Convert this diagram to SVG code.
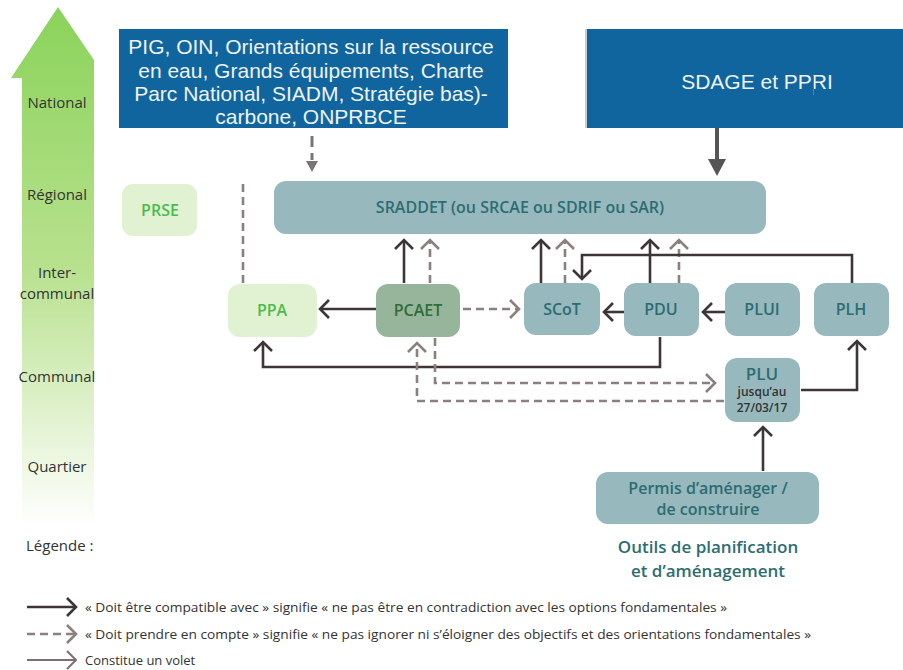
<svg xmlns="http://www.w3.org/2000/svg" width="903" height="670" viewBox="0 0 903 670">
<defs>
<linearGradient id="gArrow" x1="0" y1="0" x2="0" y2="1">
<stop offset="0" stop-color="#8ad35a"/>
<stop offset="0.5" stop-color="#b8e18e"/>
<stop offset="1" stop-color="#ffffff"/>
</linearGradient>
<marker id="ms" markerUnits="userSpaceOnUse" viewBox="-12 -12 14 24" markerWidth="14" markerHeight="24" refX="0" refY="0" orient="auto">
<path d="M-9,-9 L0,0 L-9,9" fill="none" stroke="#3e3636" stroke-width="2.6"/>
</marker>
<marker id="md" markerUnits="userSpaceOnUse" viewBox="-12 -12 14 24" markerWidth="14" markerHeight="24" refX="0" refY="0" orient="auto">
<path d="M-9,-9 L0,0 L-9,9" fill="none" stroke="#8c7f7f" stroke-width="2.6"/>
</marker>
<marker id="mv" markerUnits="userSpaceOnUse" viewBox="-12 -12 14 24" markerWidth="14" markerHeight="24" refX="0" refY="0" orient="auto">
<path d="M-9,-9 L0,0 L-9,9" fill="none" stroke="#7d6f6f" stroke-width="2"/>
</marker>
</defs>
<style>
.lvl{font-family:"Open Sans","Noto Sans",sans-serif;font-size:15px;fill:#333;text-anchor:middle}
.blue{fill:#10659f}
.btxt{font-family:"Liberation Sans",Arial,sans-serif;font-size:21px;fill:#eef3f8;text-anchor:middle}
.teal{fill:#97b8bd}
.lgreen{fill:#e1f2d3}
.lab{font-family:"Open Sans","Noto Sans",sans-serif;font-size:16px;font-weight:600;text-anchor:middle}
.tt{fill:#2c6d72}
.gt{fill:#4cbb4e}
.s{fill:none;stroke:#3e3636;stroke-width:2.6}
.d{fill:none;stroke:#8c7f7f;stroke-width:2.6;stroke-dasharray:8 5}
.leg{font-family:"Open Sans","Noto Sans",sans-serif;font-size:13px;fill:#333}
</style>
<rect width="903" height="670" fill="#ffffff"/>

<g id="scale">
<polygon points="58,7 94,60 94,527 22,527 22,78 11,78" fill="url(#gArrow)"/>
<text class="lvl" x="57" y="108">National</text>
<text class="lvl" x="57" y="200">Régional</text>
<text class="lvl" x="57" y="278">Inter-</text>
<text class="lvl" x="57" y="299">communal</text>
<text class="lvl" x="57" y="382">Communal</text>
<text class="lvl" x="57" y="472">Quartier</text>
<text class="lvl" x="26" y="551" style="text-anchor:start">Légende :</text>
</g>

<g id="pig">
<rect class="blue" x="119" y="29" width="389" height="99"/>
<text class="btxt" x="311" y="54">PIG, OIN, Orientations sur la ressource</text>
<text class="btxt" x="311" y="78">en eau, Grands équipements, Charte</text>
<text class="btxt" x="311" y="101">Parc National, SIADM, Stratégie bas)-</text>
<text class="btxt" x="311" y="124">carbone, ONPRBCE</text>
</g>

<g id="sdage">
<rect x="585" y="29" width="2" height="99" fill="#c8cdd2"/>
<rect class="blue" x="587" y="29" width="316" height="99"/>
<text class="btxt" x="757" y="89">SDAGE et PPRI</text>
<line x1="813.5" y1="76" x2="813.5" y2="95" stroke="#9a6a6a" stroke-width="1"/>
</g>

<g id="sraddet">
<rect class="teal" x="274" y="181" width="492" height="53" rx="12"/>
<text class="lab tt" x="520" y="213">SRADDET (ou SRCAE ou SDRIF ou SAR)</text>
</g>

<g id="prse">
<rect class="lgreen" x="122" y="184" width="75" height="52" rx="11"/>
<text class="lab gt" x="160" y="216">PRSE</text>
</g>

<g id="ppa">
<rect class="lgreen" x="228" y="284" width="89" height="53" rx="12"/>
<text class="lab gt" x="272" y="316">PPA</text>
</g>

<g id="pcaet">
<rect x="376" y="284" width="84" height="53" rx="12" fill="#97b59a"/>
<text class="lab" x="418" y="316" fill="#2f6d39">PCAET</text>
</g>

<g id="scot">
<rect class="teal" x="524" y="283" width="76" height="52" rx="12"/>
<text class="lab tt" x="562" y="315">SCoT</text>
</g>

<g id="pdu">
<rect class="teal" x="624" y="283" width="75" height="53" rx="12"/>
<text class="lab tt" x="661" y="315">PDU</text>
</g>

<g id="plui">
<rect class="teal" x="725" y="283" width="75" height="53" rx="12"/>
<text class="lab tt" x="762" y="315">PLUI</text>
</g>

<g id="plh">
<rect class="teal" x="814" y="283" width="75" height="53" rx="12"/>
<text class="lab tt" x="851" y="315">PLH</text>
</g>

<g id="plu">
<rect class="teal" x="725" y="358" width="75" height="64" rx="12"/>
<text class="lab tt" x="762" y="380" style="font-size:17px">PLU</text>
<text class="lab" x="762" y="396" fill="#333" style="font-size:12px">jusqu’au</text>
<text class="lab" x="762" y="412" fill="#333" style="font-size:12px">27/03/17</text>
</g>

<g id="permis">
<rect class="teal" x="596" y="472" width="223" height="52" rx="12"/>
<text class="lab tt" x="708" y="494">Permis d’aménager /</text>
<text class="lab tt" x="708" y="515">de construire</text>
</g>

<g id="outils">
<text class="lab tt" x="708" y="553" style="font-size:17px">Outils de planification</text>
<text class="lab tt" x="708" y="577" style="font-size:17px">et d’aménagement</text>
</g>

<g id="connectors">
<line x1="312" y1="136" x2="312" y2="160" stroke="#7a7474" stroke-width="3" stroke-dasharray="11 6"/>
<polygon points="306,161 318,161 312,172" fill="#7a7474"/>
<line x1="717" y1="128" x2="717" y2="160" stroke="#555" stroke-width="4"/>
<polygon points="708,159 726,159 717,176" fill="#555"/>

<line class="d" x1="243" y1="283" x2="243" y2="182"/>

<line class="s" x1="404" y1="283" x2="404" y2="240" marker-end="url(#ms)"/>
<line class="d" x1="430" y1="283" x2="430" y2="240" marker-end="url(#md)"/>
<line class="s" x1="541" y1="283" x2="541" y2="240" marker-end="url(#ms)"/>
<line class="d" x1="565" y1="283" x2="565" y2="240" marker-end="url(#md)"/>
<line class="s" x1="650" y1="283" x2="650" y2="240" marker-end="url(#ms)"/>
<line class="d" x1="679" y1="283" x2="679" y2="240" marker-end="url(#md)"/>

<path class="s" d="M852,283 V255 H582 V279" marker-end="url(#ms)"/>

<line class="s" x1="376" y1="309" x2="320" y2="309" marker-end="url(#ms)"/>
<line class="d" x1="463" y1="309" x2="519" y2="309" marker-end="url(#md)"/>
<line class="s" x1="624" y1="312" x2="604" y2="312" marker-end="url(#ms)"/>
<line class="s" x1="725" y1="312" x2="703" y2="312" marker-end="url(#ms)"/>

<path class="s" d="M660,337 V367 H263 V342" marker-end="url(#ms)"/>
<path class="d" d="M435,338 V383 H715" marker-end="url(#md)"/>
<path class="d" d="M724,401 H417 V343" marker-end="url(#md)"/>
<path class="s" d="M801,390 H857 V341" marker-end="url(#ms)"/>
<line class="s" x1="763" y1="471" x2="763" y2="427" marker-end="url(#ms)"/>
</g>

<g id="legend">
<line class="s" x1="27" y1="607" x2="76" y2="607" marker-end="url(#ms)"/>
<text class="leg" x="85" y="612" textLength="642" lengthAdjust="spacingAndGlyphs">« Doit être compatible avec » signifie « ne pas être en contradiction avec les options fondamentales »</text>
<line class="d" x1="27" y1="634" x2="76" y2="634" marker-end="url(#md)"/>
<text class="leg" x="85" y="639" textLength="726" lengthAdjust="spacingAndGlyphs">« Doit prendre en compte » signifie « ne pas ignorer ni s’éloigner des objectifs et des orientations fondamentales »</text>
<line x1="27" y1="660" x2="76" y2="660" stroke="#7d6f6f" stroke-width="2" marker-end="url(#mv)"/>
<text class="leg" x="85" y="665">Constitue un volet</text>
</g>
</svg>
